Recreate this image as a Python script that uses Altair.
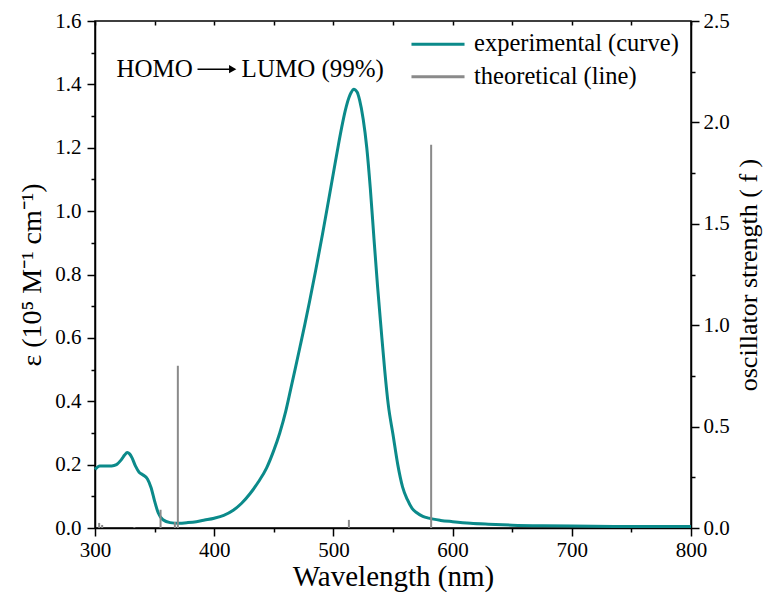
import altair as alt
import pandas as pd

# ---- data ----
exp_wl = [300, 304, 309, 314, 318, 322, 325, 327, 329, 331, 334, 337, 340, 344, 347,
          350, 353, 357, 363, 370, 378, 385, 392, 400, 408, 416, 423, 430, 437, 444,
          450, 455, 460, 464, 468, 472, 476, 480, 485, 491, 496, 500, 504, 507, 510,
          513, 515, 517, 520, 522, 525, 528, 531, 534, 537, 540, 543, 546, 550, 554,
          558, 562, 566, 570, 575, 580, 590, 600, 615, 630, 650, 675, 700, 750, 800]
exp_eps = [0.185, 0.196, 0.196, 0.196, 0.200, 0.215, 0.231, 0.238, 0.234, 0.222, 0.195,
           0.176, 0.168, 0.155, 0.128, 0.085, 0.048, 0.026, 0.017, 0.015, 0.017, 0.020,
           0.025, 0.031, 0.040, 0.056, 0.078, 0.108, 0.145, 0.190, 0.245, 0.300, 0.368,
           0.435, 0.503, 0.572, 0.642, 0.715, 0.810, 0.930, 1.035, 1.120, 1.205, 1.265,
           1.318, 1.358, 1.375, 1.385, 1.375, 1.350, 1.290, 1.200, 1.070, 0.915, 0.765,
           0.630, 0.500, 0.390, 0.295, 0.200, 0.130, 0.090, 0.062, 0.048, 0.037, 0.031,
           0.024, 0.020, 0.015, 0.012, 0.009, 0.007, 0.006, 0.005, 0.005]

th_wl = [303.5, 306, 333, 355, 367, 369.5, 513, 582]
th_f = [0.025, 0.015, 0.004, 0.09, 0.03, 0.80, 0.04, 1.89]

x_ticks = [300, 350, 400, 450, 500, 550, 600, 650, 700, 750, 800]
left_ticks = [0.0, 0.1, 0.2, 0.3, 0.4, 0.5, 0.6, 0.7, 0.8, 0.9, 1.0, 1.1, 1.2, 1.3, 1.4, 1.5, 1.6]
right_ticks = [0.0, 0.25, 0.5, 0.75, 1.0, 1.25, 1.5, 1.75, 2.0, 2.25, 2.5]

annot_text = ["HOMO", "LUMO (99%)"]
annot_x = [318, 423]
annot_y = [1.448, 1.448]
arrow_x = [386]
arrow_x2 = [414]
arrow_head_x = [415.5]

legend_labels = ["experimental (curve)", "theoretical (line)"]
legend_x = [565.5]
legend_x2 = [610]
legend_text_x = [618]
legend_y = [1.527, 1.424]

TEAL = "#0b8a8a"
GRAY = "#8a8a8a"
FONT = "Liberation Serif, Times New Roman, Times, serif"

exp_df = pd.DataFrame({"wl": exp_wl, "eps": exp_eps})
th_df = pd.DataFrame({"wl": th_wl, "f": th_f, "zero": [0.0] * len(th_wl)})
annot_df = pd.DataFrame({"t": annot_text, "x": annot_x, "y": annot_y})
arrow_df = pd.DataFrame({"x": arrow_x, "x2": arrow_x2, "y": annot_y[:1]})
head_df = pd.DataFrame({"x": arrow_head_x, "y": annot_y[:1]})
leg_exp = pd.DataFrame({"x": legend_x, "x2": legend_x2, "y": legend_y[:1], "tx": legend_text_x, "t": legend_labels[:1]})
leg_th = pd.DataFrame({"x": legend_x, "x2": legend_x2, "y": legend_y[1:], "tx": legend_text_x, "t": legend_labels[1:]})

xs = alt.Scale(domain=[300, 800], nice=False, zero=False)
yl = alt.Scale(domain=[0, 1.6], nice=False, zero=False)
yr = alt.Scale(domain=[0, 2.5], nice=False, zero=False)

bottom_axis = alt.Axis(
    orient="bottom", values=x_ticks, title="Wavelength (nm)",
    labelExpr="datum.value % 100 == 0 ? datum.label : ''",
    tickSize={"condition": {"test": "datum.value % 100 == 0", "value": 8}, "value": 4},
    labelPadding=3, titlePadding=2, grid=False, labelFlush=False, titleFontSize=29)
top_axis = alt.Axis(orient="top", values=x_ticks, labels=False, domain=False,
                    tickSize=4, offset=-4, title=None, grid=False)
left_axis = alt.Axis(
    orient="left", values=left_ticks, title="ε (10⁵ M⁻¹ cm⁻¹)",
    labelExpr="round(datum.value*10) % 2 == 0 ? format(datum.value, '.1f') : ''",
    tickSize={"condition": {"test": "round(datum.value*10) % 2 == 0", "value": 8}, "value": 4},
    labelPadding=6, titlePadding=8, grid=False, labelFlush=False)
right_axis = alt.Axis(
    orient="right", values=right_ticks, title="oscillator strength ( f )",
    labelExpr="round(datum.value*4) % 2 == 0 ? format(datum.value, '.1f') : ''",
    tickSize={"condition": {"test": "round(datum.value*4) % 2 == 0", "value": 8}, "value": 4},
    labelPadding=4, titlePadding=6, titleAngle=-90, titleBaseline="top", grid=False,
    labelFlush=False, titleFontSize=26)

curve = alt.Chart(exp_df).mark_line(color=TEAL, strokeWidth=3, interpolate="monotone").encode(
    x=alt.X("wl:Q", scale=xs, axis=bottom_axis),
    y=alt.Y("eps:Q", scale=yl, axis=left_axis))

topax = alt.Chart(exp_df).mark_point(opacity=0).encode(
    x=alt.X("wl:Q", scale=xs, axis=top_axis),
    y=alt.Y("eps:Q", scale=yl, axis=None))

sticks = alt.Chart(th_df).mark_rule(color=GRAY, strokeWidth=2).encode(
    x=alt.X("wl:Q", scale=xs, axis=None),
    y=alt.Y("f:Q", scale=yr, axis=right_axis),
    y2="zero:Q")

annot = alt.Chart(annot_df).mark_text(align="left", baseline="middle", font=FONT,
                                      fontSize=25, color="black").encode(
    x=alt.X("x:Q", scale=xs, axis=None), y=alt.Y("y:Q", scale=yl, axis=None), text="t:N")
arrow = alt.Chart(arrow_df).mark_rule(color="black", strokeWidth=1.5).encode(
    x=alt.X("x:Q", scale=xs, axis=None), x2="x2:Q", y=alt.Y("y:Q", scale=yl, axis=None))
head = alt.Chart(head_df).mark_point(shape="triangle-right", filled=True, color="black",
                                     size=70, opacity=1).encode(
    x=alt.X("x:Q", scale=xs, axis=None), y=alt.Y("y:Q", scale=yl, axis=None))

def legend_layers(df, col):
    sym = alt.Chart(df).mark_rule(color=col, strokeWidth=3).encode(
        x=alt.X("x:Q", scale=xs, axis=None), x2="x2:Q", y=alt.Y("y:Q", scale=yl, axis=None))
    txt = alt.Chart(df).mark_text(align="left", baseline="middle", font=FONT,
                                  fontSize=24.5, color="black").encode(
        x=alt.X("tx:Q", scale=xs, axis=None), y=alt.Y("y:Q", scale=yl, axis=None), text="t:N")
    return [sym, txt]

layers = [curve, sticks, topax, annot, arrow, head] + legend_layers(leg_exp, TEAL) + legend_layers(leg_th, GRAY)

chart = alt.layer(*layers).resolve_scale(y="independent").resolve_axis(
    x="independent", y="independent"
).properties(
    width=596, height=507,
    autosize=alt.AutoSizeParams(type="none"),
    padding={"left": 87, "top": 13, "right": 74, "bottom": 64},
    background="white",
).configure_view(stroke="black", strokeWidth=1.5).configure_axis(
    domainColor="black", domainWidth=1.5, tickColor="black", tickWidth=1.5,
    labelFont=FONT, labelFontSize=21, labelColor="black",
    titleFont=FONT, titleFontSize=28, titleFontWeight="normal", titleColor="black",
)

chart.save("out.html", embed_options={"renderer": "svg", "actions": False})
